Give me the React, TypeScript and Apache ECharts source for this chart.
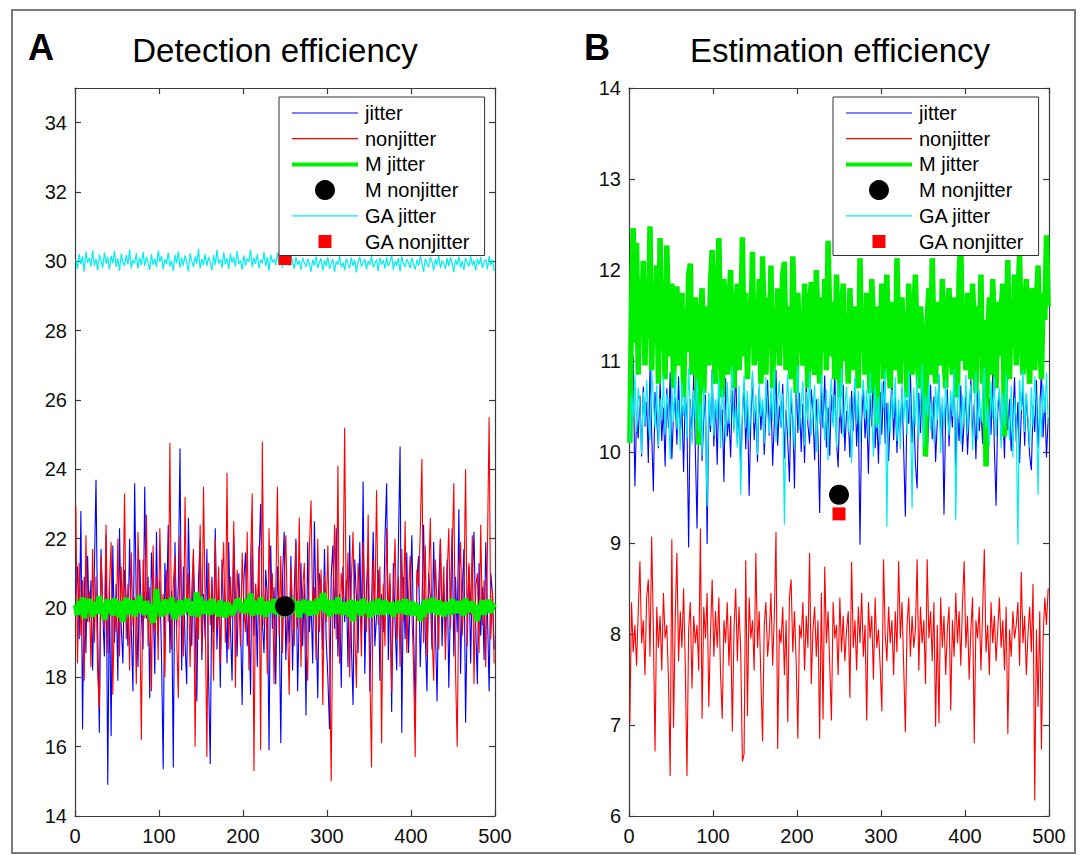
import React, { useEffect, useRef } from "react";
import * as echarts from "echarts";

// ---------- data ----------
const SAMPLE_STEP = 2; // one stored sample per 2 trials (trial = i*2+1)
const X_TICKS = { min: 0, max: 500, interval: 100 };
const A_Y = { min: 14, max: 35, interval: 2 };
const B_Y = { min: 6, max: 14, interval: 1 };
const TITLE_A = "Detection efficiency";
const TITLE_B = "Estimation efficiency";
const NAMES = ["jitter", "nonjitter", "M jitter", "M nonjitter", "GA jitter", "GA nonjitter"];

const aJitter = [
  20.4, 21.2, 19.1, 22.8, 16.5, 20.9, 18.7, 21.5, 19.6, 20.8,
  18.2, 21.0, 23.7, 19.3, 16.4, 21.7, 19.9, 18.6, 22.1, 14.9,
  20.6, 16.3, 21.8, 19.0, 20.7, 17.9, 22.3, 19.5, 18.4, 21.1,
  20.2, 18.9, 22.0, 19.4, 17.6, 23.6, 20.1, 18.3, 21.4, 19.8,
  18.8, 23.5, 19.7, 20.9, 17.4, 21.6, 20.3, 18.1, 22.2, 19.2,
  20.8, 18.6, 15.35, 21.3, 19.9, 22.4, 18.7, 20.5, 15.4, 21.9,
  19.4, 20.7, 24.6, 18.2, 21.2, 19.0, 17.8, 22.6, 20.1, 18.9,
  21.5, 19.6, 17.3, 20.8, 22.0, 18.5, 20.4, 19.1, 21.7, 18.0,
  15.5, 20.9, 19.3, 22.3, 18.8, 20.6, 17.7, 21.4, 19.8, 20.3,
  18.4, 21.9, 19.5, 17.9, 22.1, 20.2, 18.6, 21.0, 19.7, 17.2,
  20.8, 21.6, 18.9, 20.0, 17.5, 22.4, 19.2, 20.7, 18.3, 21.3,
  23.0, 19.6, 18.7, 21.1, 20.3, 15.9, 21.8, 19.4, 20.6, 17.8,
  21.2, 19.9, 16.1, 20.8, 22.2, 18.5, 20.1, 19.0, 21.5, 18.2,
  20.5, 22.0, 17.6, 19.8, 21.3, 18.9, 20.7, 16.9, 21.9, 19.3,
  20.2, 18.4, 22.5, 19.7, 17.4, 21.0, 20.6, 18.8, 21.7, 19.1,
  18.0, 16.5, 20.9, 21.8, 19.4, 22.3, 18.6, 20.4, 17.7, 21.2,
  19.6, 20.8, 18.3, 22.1, 19.0, 17.2, 21.4, 20.3, 18.7, 21.9,
  19.2, 23.65, 18.1, 20.6, 21.5, 17.6, 20.0, 22.2, 18.9, 19.8,
  21.1, 17.9, 20.4, 19.3, 22.0, 23.6, 18.5, 20.7, 17.0, 21.3,
  19.6, 18.2, 21.8, 24.66, 16.4, 20.9, 19.1, 21.6, 18.7, 20.2,
  22.1, 19.4, 17.0, 20.8, 21.5, 18.3, 20.0, 22.4, 19.2, 17.6,
  21.0, 20.3, 18.8, 21.9, 19.5, 17.3, 20.6, 22.0, 18.9, 20.7,
  19.0, 21.4, 17.7, 20.2, 22.3, 18.6, 20.9, 19.3, 22.85, 18.1,
  20.5, 21.7, 16.7, 19.8, 21.2, 18.4, 20.8, 22.2, 19.5, 17.8,
  21.3, 19.2, 20.6, 18.5, 21.9, 19.9, 17.6, 21.0, 20.4, 18.8,
];

const aNonjitter = [
  22.96, 18.4, 21.3, 19.2, 20.8, 17.9, 22.1, 19.6, 20.5, 18.3,
  21.7, 19.0, 20.9, 18.1, 17.1, 21.5, 20.2, 19.4, 22.4, 18.7,
  20.6, 21.9, 17.5, 20.1, 19.3, 22.0, 18.6, 21.2, 19.8, 23.3,
  19.1, 20.7, 18.2, 21.6, 19.5, 20.3, 17.8, 22.2, 20.0, 16.2,
  21.4, 19.7, 22.7, 18.9, 20.6, 17.6, 21.8, 19.3, 20.9, 18.5,
  22.3, 19.9, 20.4, 18.0, 21.1, 19.6, 24.76, 18.8, 20.7, 21.5,
  19.2, 17.4, 22.1, 20.3, 18.6, 23.2, 19.8, 21.0, 18.3, 20.5,
  21.7, 16.0, 20.2, 19.1, 22.4, 18.7, 23.5, 20.0, 15.7, 21.3,
  19.5, 20.8, 17.9, 22.0, 19.4, 21.2, 18.4, 20.6, 21.9, 19.0,
  23.9, 18.8, 20.9, 19.7, 22.5, 17.7, 21.1, 20.3, 18.9, 21.6,
  20.0, 19.3, 22.2, 18.2, 21.4, 23.3, 15.3, 20.7, 19.8, 21.8,
  15.9, 24.8, 19.5, 20.6, 18.1, 22.3, 19.9, 21.0, 17.8, 20.4,
  23.5, 19.2, 21.5, 18.7, 20.8, 22.1, 19.6, 17.5, 21.2, 20.1,
  18.9, 21.9, 19.4, 22.6, 18.3, 20.5, 21.3, 19.0, 17.9, 21.7,
  23.1, 19.8, 20.6, 18.5, 22.0, 19.3, 21.1, 17.2, 20.9, 19.6,
  21.8, 18.8, 15.0, 20.3, 22.4, 19.1, 24.1, 18.4, 21.0, 20.2,
  25.2, 19.7, 21.6, 18.0, 20.8, 22.2, 19.4, 17.7, 21.3, 20.5,
  18.6, 21.9, 20.1, 19.3, 22.7, 18.2, 15.4, 21.4, 20.0, 23.4,
  19.5, 21.2, 16.1, 20.7, 18.9, 22.3, 19.8, 21.0, 17.6, 20.4,
  22.0, 19.1, 20.9, 18.3, 21.7, 19.6, 22.5, 18.7, 20.3, 21.5,
  19.9, 18.4, 15.7, 21.1, 20.6, 22.2, 24.3, 19.0, 21.8, 18.6,
  20.8, 22.6, 19.3, 17.9, 21.4, 20.1, 18.8, 22.0, 19.7, 21.2,
  18.5, 20.9, 22.3, 19.4, 21.6, 23.6, 18.2, 16.0, 20.7, 21.9,
  19.2, 20.4, 24.0, 18.9, 21.3, 19.8, 22.1, 17.8, 20.6, 21.0,
  18.7, 22.4, 19.5, 20.8, 18.3, 21.7, 25.5, 19.1, 20.5, 18.4,
];

const aMJitter = [
  20.09, 19.80, 20.20, 19.92, 20.30, 19.70, 20.12, 19.88, 20.26, 19.96,
  19.75, 20.17, 20.03, 19.83, 20.34, 19.93, 20.14, 19.66, 20.07, 20.24,
  19.86, 20.10, 19.78, 20.27, 19.95, 20.15, 19.73, 20.19, 19.60, 20.05,
  20.29, 19.81, 20.09, 19.98, 20.22, 19.76, 20.14, 19.91, 20.36, 19.85,
  20.03, 19.80, 20.20, 19.95, 20.10, 19.71, 19.58, 19.86, 20.55, 19.96,
  20.17, 19.76, 20.05, 20.24, 19.83, 20.12, 19.91, 20.31, 19.86, 19.68,
  20.15, 19.93, 20.22, 19.80, 20.09, 19.88, 20.27, 19.98, 20.03, 19.78,
  20.19, 19.90, 20.45, 19.75, 20.32, 19.95, 20.07, 19.83, 20.20, 19.96,
  19.81, 20.26, 20.02, 19.86, 20.14, 19.76, 20.22, 19.91, 20.12, 19.73,
  20.17, 19.95, 20.09, 19.80, 19.91, 20.03, 20.24, 20.20, 20.09, 19.88,
  20.14, 19.85, 20.27, 19.93, 20.42, 19.78, 20.20, 19.98, 20.10, 19.81,
  20.31, 19.90, 20.05, 19.75, 20.19, 19.95, 20.12, 19.86, 20.26, 19.96,
  19.83, 20.15, 20.03, 19.76, 20.22, 19.91, 20.09, 19.80, 20.29, 19.88,
  20.10, 19.98, 20.19, 19.73, 20.14, 19.93, 20.24, 19.85, 20.05, 19.78,
  20.20, 19.90, 20.12, 19.81, 20.27, 19.95, 20.07, 20.42, 20.30, 19.86,
  20.15, 19.76, 20.22, 19.96, 20.09, 19.83, 20.31, 19.91, 20.03, 19.80,
  20.17, 19.88, 20.10, 19.75, 20.24, 19.62, 20.14, 19.85, 20.20, 19.98,
  19.78, 20.26, 20.05, 19.86, 20.12, 19.73, 20.19, 19.93, 20.09, 19.81,
  20.27, 19.90, 20.15, 19.80, 20.22, 19.96, 20.07, 19.83, 20.17, 19.76,
  20.12, 19.91, 20.20, 19.85, 20.09, 19.95, 20.26, 19.81, 20.05, 19.90,
  20.19, 19.78, 20.14, 19.93, 20.03, 19.63, 20.10, 19.75, 20.24, 19.98,
  20.07, 19.86, 20.29, 19.91, 20.15, 19.80, 20.22, 19.95, 20.03, 19.76,
  20.17, 19.90, 20.10, 19.81, 20.26, 19.96, 20.12, 19.85, 20.20, 19.91,
  20.05, 19.78, 20.27, 19.88, 20.14, 19.93, 20.19, 19.83, 20.03, 19.62,
  20.09, 19.95, 20.22, 19.80, 20.15, 19.90, 20.24, 19.86, 20.10, 20.00,
];
const aMNonjitter = [[250, 20.05]];

const aGAJitter = [
  30.05, 29.78, 30.21, 29.92, 30.14, 29.70, 30.28, 29.96, 30.10, 29.85,
  30.32, 29.88, 30.07, 29.74, 30.19, 30.02, 29.81, 30.26, 29.93, 30.12,
  29.76, 30.16, 29.95, 30.30, 29.84, 30.09, 29.72, 30.22, 29.99, 29.87,
  30.18, 29.91, 30.35, 29.80, 30.04, 29.94, 30.24, 29.79, 30.11, 29.89,
  30.27, 29.86, 30.13, 29.97, 29.75, 30.20, 29.90, 30.08, 29.83, 30.31,
  29.98, 30.15, 29.77, 30.06, 29.92, 30.25, 29.85, 30.03, 29.73, 30.19,
  29.95, 30.29, 29.82, 30.10, 29.88, 30.17, 29.96, 29.71, 30.23, 30.01,
  29.84, 30.14, 29.93, 30.36, 29.79, 30.07, 29.90, 30.21, 29.87, 30.12,
  29.97, 29.74, 30.18, 29.89, 30.33, 29.94, 30.05, 29.81, 30.26, 29.91,
  30.09, 29.78, 30.22, 29.96, 30.13, 29.85, 30.30, 29.92, 30.02, 29.76,
  30.17, 29.88, 30.08, 29.99, 30.34, 29.83, 30.11, 29.93, 30.20, 29.80,
  30.04, 29.95, 30.27, 29.86, 30.12, 29.72, 30.19, 29.97, 30.07, 29.89,
  30.24, 29.91, 30.15, 29.82, 30.38, 29.94, 30.06, 29.87, 30.21, 29.98,
  29.79, 30.13, 29.90, 30.02, 29.75, 30.10, 29.96, 29.84, 30.07, 29.92,
  29.70, 30.05, 29.88, 30.14, 29.81, 29.97, 30.09, 29.73, 30.03, 29.86,
  30.12, 29.78, 29.95, 30.06, 29.69, 30.01, 29.90, 30.15, 29.83, 29.97,
  29.74, 30.08, 29.92, 29.80, 30.11, 29.87, 30.04, 29.68, 29.99, 30.13,
  29.85, 29.96, 30.07, 29.77, 30.02, 29.89, 30.16, 29.82, 29.94, 30.05,
  29.72, 30.10, 29.91, 30.03, 29.79, 30.12, 29.86, 29.98, 30.18, 29.75,
  30.00, 29.88, 30.09, 29.71, 30.14, 29.93, 29.84, 30.06, 29.97, 29.80,
  30.11, 29.90, 29.76, 30.04, 29.87, 30.15, 29.95, 29.70, 30.08, 29.92,
  29.83, 30.13, 29.98, 29.74, 30.06, 29.89, 30.17, 29.81, 30.02, 29.94,
  29.78, 30.09, 29.86, 30.12, 29.93, 29.69, 30.05, 29.90, 30.14, 29.82,
  30.01, 29.75, 30.10, 29.95, 29.85, 30.16, 29.88, 30.03, 29.73, 30.07,
  29.91, 30.12, 29.80, 29.98, 30.06, 29.77, 30.15, 29.89, 30.04, 29.72,
];
const aGANonjitter = [[250, 30.08]];

const bJitter = [
  10.45, 10.80, 11.05, 9.62, 10.38, 10.15, 10.62, 9.95, 10.72, 10.28,
  10.55, 9.88, 10.93, 10.20, 9.57, 10.66, 10.35, 10.04, 10.78, 10.12,
  10.49, 9.84, 10.70, 10.26, 10.88, 9.92, 10.41, 10.60, 10.08, 10.83,
  10.19, 10.52, 9.78, 10.67, 10.31, 8.95, 10.58, 10.14, 10.85, 10.02,
  9.16, 10.44, 10.74, 9.90, 10.36, 10.63, 8.99, 10.50, 10.22, 10.91,
  10.06, 10.57, 9.86, 10.73, 10.29, 10.47, 9.67, 10.81, 10.17, 10.40,
  9.94, 10.68, 10.25, 10.97, 10.10, 10.54, 9.82, 10.39, 10.76, 10.03,
  10.61, 9.52, 10.34, 10.86, 10.13, 10.48, 9.89, 10.70, 10.24, 10.56,
  9.97, 10.42, 10.79, 10.18, 10.64, 9.85, 10.33, 10.90, 10.07, 10.51,
  10.27, 10.75, 9.93, 10.46, 10.12, 9.67, 10.59, 10.37, 9.60, 10.82,
  10.21, 10.65, 10.00, 10.53, 9.88, 10.77, 10.30, 10.09, 10.69, 10.43,
  9.91, 10.58, 10.16, 9.33, 10.72, 10.26, 10.84, 10.05, 10.49, 9.96,
  10.63, 10.32, 10.87, 10.11, 9.83, 10.55, 10.20, 10.74, 10.01, 10.45,
  10.38, 9.94, 10.67, 10.23, 10.80, 10.06, 10.52, 8.98, 10.35, 10.71,
  10.15, 10.47, 9.76, 10.62, 10.28, 10.93, 10.04, 10.40, 9.87, 10.66,
  10.19, 10.78, 10.09, 10.54, 9.90, 10.36, 10.83, 10.13, 10.60, 9.99,
  10.44, 10.25, 10.70, 10.02, 9.29, 10.57, 10.31, 10.88, 10.10, 10.48,
  9.86, 9.60, 10.65, 10.21, 10.79, 10.07, 10.50, 9.95, 10.39, 10.74,
  10.14, 10.61, 9.89, 10.33, 10.85, 10.18, 10.52, 9.31, 10.43, 10.69,
  10.06, 10.57, 10.27, 10.91, 9.84, 10.46, 10.12, 10.73, 10.00, 10.35,
  10.64, 9.97, 10.41, 10.80, 10.16, 10.53, 9.92, 10.68, 10.23, 10.47,
  10.09, 10.75, 10.30, 9.85, 10.59, 10.19, 10.87, 10.04, 9.41, 10.44,
  10.66, 10.13, 10.50, 9.93, 10.77, 10.24, 10.58, 10.01, 10.38, 10.82,
  10.11, 10.55, 9.88, 10.42, 10.71, 10.07, 10.63, 10.29, 9.96, 9.80,
  10.51, 10.22, 10.79, 10.05, 10.46, 10.90, 10.16, 10.60, 9.94, 10.37,
];

const bNonjitter = [
  7.02, 8.35, 7.80, 8.10, 7.65, 8.25, 8.80, 7.90, 8.15, 7.55,
  8.40, 8.60, 7.75, 9.07, 8.05, 6.71, 8.30, 7.85, 8.20, 7.60,
  8.45, 7.95, 8.10, 7.50, 6.44, 9.04, 6.97, 8.15, 8.89, 7.70,
  8.25, 7.85, 8.50, 7.65, 6.44, 8.05, 8.35, 7.40, 8.20, 7.90,
  8.10, 7.60, 9.16, 7.07, 8.30, 7.95, 8.45, 7.20, 8.00, 8.60,
  7.75, 8.25, 7.85, 8.40, 7.55, 7.07, 8.15, 7.90, 8.35, 7.65,
  8.20, 6.93, 8.05, 8.50, 7.70, 8.30, 7.80, 6.60, 6.68, 8.81,
  7.10, 8.40, 7.95, 8.15, 7.60, 8.89, 7.85, 8.25, 7.50, 6.82,
  8.10, 8.35, 7.75, 8.00, 8.45, 7.65, 8.20, 9.12, 6.74, 8.05,
  7.90, 8.30, 7.55, 8.15, 7.03, 8.40, 8.60, 7.80, 8.25, 7.70,
  6.85, 8.10, 7.95, 8.35, 7.60, 8.20, 7.85, 8.89, 7.45, 8.05,
  8.30, 7.75, 8.15, 6.85, 8.45, 7.06, 8.74, 7.90, 8.25, 7.65,
  7.05, 8.35, 7.95, 8.10, 7.55, 8.40, 7.80, 8.20, 7.70, 8.05,
  8.25, 7.30, 8.79, 7.85, 8.15, 7.60, 8.30, 7.90, 8.45, 7.75,
  8.10, 7.05, 8.35, 7.95, 8.20, 7.50, 8.40, 7.85, 8.05, 7.65,
  7.15, 8.82, 8.00, 7.70, 8.30, 7.90, 8.15, 7.55, 8.25, 7.80,
  8.80, 7.95, 8.35, 7.65, 6.92, 8.10, 8.40, 7.75, 8.20, 7.85,
  8.05, 8.82, 7.60, 8.30, 7.90, 8.15, 7.45, 8.82, 7.95, 8.25,
  7.70, 8.35, 6.98, 8.10, 7.02, 8.40, 7.85, 8.20, 7.55, 8.05,
  8.30, 7.16, 8.15, 7.75, 8.45, 7.90, 8.25, 7.65, 8.35, 8.80,
  7.85, 8.20, 7.50, 8.05, 8.40, 6.80, 8.15, 7.95, 8.30, 7.60,
  8.25, 8.93, 7.80, 8.10, 7.55, 8.35, 7.90, 8.20, 7.70, 8.05,
  8.40, 7.85, 8.15, 7.60, 8.30, 6.90, 8.05, 7.75, 8.25, 7.95,
  8.10, 8.35, 7.65, 8.68, 7.90, 8.20, 7.55, 8.00, 8.30, 7.80,
  8.55, 6.17, 8.05, 7.20, 8.25, 6.73, 7.95, 8.40, 8.10, 8.50,
];

const bMJitter = [
  10.10, 11.65, 12.46, 11.20, 12.30, 10.85, 11.90, 11.35, 12.10, 10.95,
  11.70, 11.25, 12.48, 10.90, 11.80, 11.40, 12.05, 10.75, 12.35, 11.15,
  11.60, 10.80, 12.27, 11.45, 11.05, 11.85, 10.70, 11.50, 11.82, 10.95,
  11.30, 11.75, 10.60, 11.55, 11.10, 11.95, 12.07, 10.85, 11.40, 11.70,
  10.90, 10.08, 11.45, 11.80, 10.65, 11.35, 11.60, 10.95, 11.85, 12.22,
  11.15, 10.75, 11.70, 12.35, 11.25, 10.60, 11.90, 11.40, 10.85, 11.65,
  12.00, 11.10, 10.70, 11.55, 11.85, 10.90, 11.30, 12.36, 11.05, 11.75,
  10.80, 11.50, 11.20, 12.20, 10.95, 11.65, 11.00, 11.90, 10.75, 12.15,
  11.35, 10.85, 11.70, 11.25, 12.05, 10.70, 11.55, 11.10, 11.80, 10.95,
  11.45, 11.95, 12.09, 10.90, 11.60, 11.20, 10.80, 12.15, 11.40, 10.65,
  11.75, 11.15, 11.50, 10.95, 11.85, 11.25, 10.70, 11.60, 11.87, 11.05,
  10.85, 12.00, 11.35, 10.75, 11.70, 11.10, 11.90, 10.90, 12.32, 11.45,
  11.05, 11.65, 10.80, 11.95, 11.30, 10.60, 11.55, 11.85, 11.00, 11.40,
  10.75, 11.80, 11.20, 10.90, 11.60, 11.35, 10.70, 12.13, 11.10, 11.50,
  10.85, 11.75, 11.25, 10.65, 11.90, 11.45, 10.95, 10.30, 11.60, 11.15,
  11.85, 10.80, 11.40, 11.95, 11.05, 10.70, 11.65, 11.30, 10.90, 12.13,
  11.20, 10.75, 11.70, 11.00, 11.55, 10.60, 11.85, 11.25, 10.85, 11.50,
  11.95, 11.10, 10.70, 11.60, 11.30, 10.90, 9.95, 11.45, 11.80, 10.85,
  12.13, 11.20, 10.75, 11.65, 11.35, 10.95, 11.90, 11.05, 10.70, 11.55,
  11.80, 11.15, 10.85, 11.70, 11.40, 10.60, 11.95, 12.34, 11.00, 11.50,
  10.90, 11.75, 11.25, 10.80, 11.85, 11.35, 10.65, 11.60, 11.10, 11.95,
  10.75, 11.45, 9.84, 11.20, 11.70, 10.85, 11.90, 11.30, 10.70, 11.65,
  11.05, 11.55, 11.85, 10.17, 11.40, 12.11, 10.80, 11.60, 11.15, 11.95,
  10.95, 11.70, 12.16, 11.25, 10.85, 11.55, 11.90, 11.10, 10.75, 11.80,
  11.35, 10.90, 11.65, 12.05, 11.20, 10.80, 11.75, 11.45, 12.38, 11.60,
];
const bMNonjitter = [[250, 9.53]];

const bGAJitter = [
  10.10, 10.62, 10.38, 10.85, 10.22, 10.71, 10.48, 9.98, 10.66, 10.30,
  10.79, 10.41, 10.13, 10.90, 10.55, 10.27, 10.74, 10.06, 10.59, 10.35,
  10.83, 10.19, 10.64, 10.44, 9.92, 10.70, 10.33, 10.88, 10.25, 10.57,
  10.02, 10.76, 10.40, 10.61, 10.15, 10.93, 10.47, 10.08, 10.68, 10.36,
  10.81, 10.23, 10.54, 9.96, 10.72, 10.42, 9.40, 10.65, 10.29, 10.87,
  10.18, 10.58, 10.37, 10.80, 10.04, 10.69, 10.46, 10.12, 10.77, 10.31,
  10.60, 10.94, 10.21, 10.52, 10.05, 10.73, 9.53, 10.43, 10.84, 10.26,
  10.67, 10.14, 10.50, 10.89, 10.32, 10.63, 9.97, 10.75, 10.39, 10.58,
  10.09, 10.82, 10.45, 10.20, 10.71, 10.34, 10.91, 10.11, 10.56, 10.78,
  10.28, 10.64, 9.20, 10.49, 10.86, 10.17, 10.70, 10.40, 10.03, 10.62,
  10.95, 10.24, 10.53, 10.78, 10.07, 10.66, 10.35, 10.88, 10.19, 10.47,
  10.74, 10.00, 10.59, 10.30, 10.85, 10.44, 10.13, 10.69, 9.91, 10.55,
  10.81, 10.27, 10.63, 10.05, 10.76, 10.38, 10.92, 10.16, 10.51, 10.72,
  10.22, 10.60, 9.88, 10.45, 10.83, 10.31, 10.67, 10.10, 10.57, 10.79,
  10.36, 10.68, 10.14, 10.87, 10.42, 9.95, 10.73, 10.26, 10.61, 10.08,
  10.77, 10.48, 10.90, 9.18, 10.54, 10.21, 10.69, 10.37, 10.82, 10.12,
  10.58, 10.03, 10.75, 10.33, 10.66, 10.19, 10.89, 10.46, 9.38, 10.71,
  10.29, 10.84, 10.15, 10.52, 10.97, 10.06, 10.63, 10.40, 10.78, 10.24,
  10.56, 10.11, 10.72, 10.35, 10.86, 9.99, 10.60, 10.27, 10.80, 10.43,
  10.18, 10.67, 10.39, 10.91, 9.25, 10.53, 10.76, 10.09, 10.62, 10.30,
  10.85, 10.20, 10.57, 10.74, 10.02, 10.45, 10.88, 10.14, 10.68, 10.32,
  10.61, 10.93, 10.25, 10.49, 10.07, 10.77, 10.36, 10.82, 10.17, 10.55,
  10.70, 10.04, 10.64, 10.28, 10.86, 10.41, 10.13, 10.73, 9.94, 10.59,
  10.34, 8.98, 10.79, 10.46, 10.90, 10.22, 10.65, 10.38, 10.05, 10.71,
  10.27, 10.83, 10.52, 9.53, 10.62, 10.16, 10.74, 10.43, 10.87, 10.31,
];
const bGANonjitter = [[250, 9.32]];

// ---------- styling ----------
const FONT = '"Liberation Sans", Arial, Helvetica, sans-serif';
const C_BLUE = "#0000ff";
const C_RED = "#ff0000";
const C_GREEN = "#00ee00";
const C_CYAN = "#00eeee";
const C_BLACK = "#000000";
const AXIS_COLOR = "#3a3a3a";

const toXY = (arr: number[]) => arr.map((v, i) => [i * SAMPLE_STEP + 1, v]);

const LINE_THIN = "path://M0,0M66,20M0,9.4h66v1.2h-66z";
const LINE_THICK = "path://M0,0M66,20M0,8h66v4.2h-66z";
const SQUARE = "path://M0,0M66,20M26.5,3.5h13v13h-13z";

function axisPair(gridIndex: number, range: { min: number; max: number; interval: number }, dim: "x" | "y") {
  const base = {
    gridIndex,
    type: "value",
    min: range.min,
    max: range.max,
    interval: range.interval,
    splitLine: { show: false },
    axisLine: { show: true, onZero: false, lineStyle: { color: AXIS_COLOR, width: 1.2 } },
    axisTick: { show: true, inside: true, length: 6, lineStyle: { color: AXIS_COLOR, width: 1.2 } },
  };
  const main = {
    ...base,
    position: dim === "x" ? "bottom" : "left",
    axisLabel: {
      show: true,
      fontSize: 20,
      fontFamily: FONT,
      color: "#111",
      margin: dim === "x" ? 10 : 8,
      showMaxLabel: dim === "y" && range.max % range.interval !== 0 ? false : true,
    },
  };
  const mirror = {
    ...base,
    position: dim === "x" ? "top" : "right",
    axisLabel: { show: false },
  };
  return [main, mirror];
}

function panelSeries(
  xi: number,
  jitter: number[],
  nonjitter: number[],
  mJitter: number[],
  mWidth: number,
  mNon: number[][],
  gaJitter: number[],
  gaNon: number[][]
) {
  const common = { xAxisIndex: xi, yAxisIndex: xi, silent: true, animation: false };
  const line = (name: string, data: number[], color: string, width: number) => ({
    ...common,
    type: "line",
    name,
    z: 2,
    data: toXY(data),
    showSymbol: false,
    symbol: "none",
    color,
    lineStyle: { color, width },
    emphasis: { disabled: true },
  });
  return [
    line(NAMES[0], jitter, C_BLUE, 1.1),
    line(NAMES[1], nonjitter, C_RED, 1.1),
    line(NAMES[2], mJitter, C_GREEN, mWidth),
    {
      ...common,
      type: "scatter",
      name: NAMES[3],
      z: 3,
      data: mNon,
      symbol: "circle",
      symbolSize: 20,
      itemStyle: { color: C_BLACK, opacity: 1 },
    },
    line(NAMES[4], gaJitter, C_CYAN, 1.2),
    {
      ...common,
      type: "scatter",
      name: NAMES[5],
      z: 3,
      data: gaNon,
      symbol: "rect",
      symbolSize: 13,
      itemStyle: { color: C_RED, opacity: 1 },
    },
  ];
}

function legendAt(left: number, top: number) {
  return {
    orient: "vertical",
    left,
    top,
    z: 6,
    itemWidth: 66,
    itemHeight: 20,
    itemGap: 5.7,
    padding: [6, 14, 4, 13],
    backgroundColor: "#ffffff",
    borderColor: "#333333",
    borderWidth: 1,
    selectedMode: false,
    symbolKeepAspect: true,
    itemStyle: { borderWidth: 0, opacity: 1 },
    textStyle: { fontSize: 20, fontFamily: FONT, color: "#000", padding: [0, 0, 0, 2] },
    data: [
      { name: NAMES[0], icon: LINE_THIN },
      { name: NAMES[1], icon: LINE_THIN },
      { name: NAMES[2], icon: LINE_THICK },
      { name: NAMES[3], icon: "circle" },
      { name: NAMES[4], icon: LINE_THIN },
      { name: NAMES[5], icon: SQUARE },
    ],
  };
}

function text(x: number, y: number, t: string, font: string) {
  return {
    type: "text",
    x,
    y,
    silent: true,
    style: {
      text: t,
      font,
      fill: "#000",
      align: "center",
      verticalAlign: "middle",
      textAlign: "center",
      textVerticalAlign: "middle",
    },
  };
}

export default function App() {
  const ref = useRef<HTMLDivElement>(null);
  useEffect(() => {
    if (!ref.current) return;
    const chart = echarts.init(ref.current, undefined, { renderer: "svg" });
    const [ax0, ax1] = axisPair(0, X_TICKS, "x");
    const [ay0, ay1] = axisPair(0, A_Y, "y");
    const [bx0, bx1] = axisPair(1, X_TICKS, "x");
    const [by0, by1] = axisPair(1, B_Y, "y");
    chart.setOption({
      animation: false,
      backgroundColor: "#ffffff",
      grid: [
        { left: 75, top: 88, width: 420, height: 728 },
        { left: 629, top: 88, width: 420, height: 728 },
      ],
      xAxis: [ax0, ax1, bx0, bx1],
      yAxis: [ay0, ay1, by0, by1],
      legend: [legendAt(279, 97), legendAt(833, 97)],
      graphic: [
        {
          type: "rect",
          silent: true,
          shape: { x: 12, y: 10, width: 1063, height: 843 },
          style: { fill: "none", stroke: "#7a7a7a", lineWidth: 2 },
        },
        text(41, 47, "A", `bold 36px ${FONT}`),
        text(275, 50, TITLE_A, `33px ${FONT}`),
        text(597, 47, "B", `bold 36px ${FONT}`),
        text(840, 50, TITLE_B, `33px ${FONT}`),
      ],
      series: [
        ...panelSeries(0, aJitter, aNonjitter, aMJitter, 6, aMNonjitter, aGAJitter, aGANonjitter),
        ...panelSeries(2, bJitter, bNonjitter, bMJitter, 5.5, bMNonjitter, bGAJitter, bGANonjitter),
      ],
    });
    return () => chart.dispose();
  }, []);
  return (
    <div
      ref={ref}
      style={{ position: "absolute", left: 0, top: 0, width: 1089, height: 855 }}
    />
  );
}
